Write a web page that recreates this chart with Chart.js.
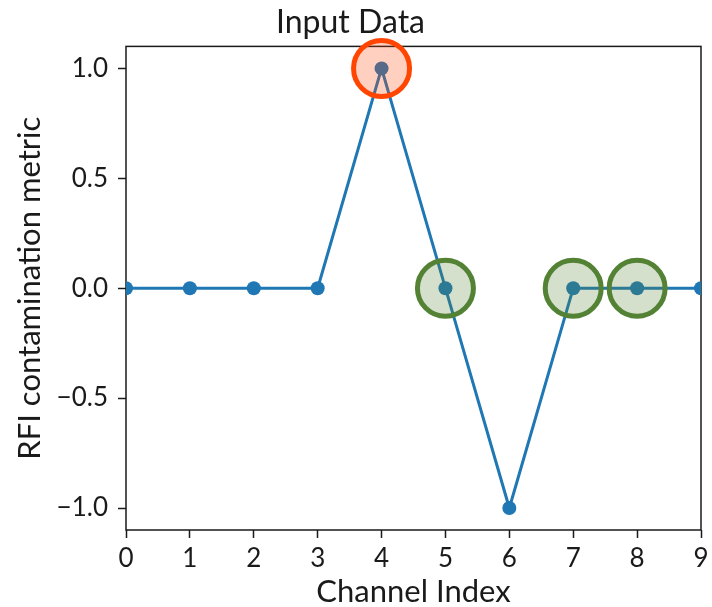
<!DOCTYPE html>
<html>
<head>
<meta charset="utf-8">
<title>Input Data</title>
<script src="https://cdn.jsdelivr.net/npm/chart.js@4.4.1/dist/chart.umd.min.js"></script>
<style>
    html, body { margin: 0; padding: 0; background: #fff; }
    #wrap { width: 712px; height: 607px; position: relative; }
</style>
</head>
<body>
<div id="wrap"><canvas id="rfiChart"></canvas></div>
<script>
// Channel data
const channels = [0, 1, 2, 3, 4, 5, 6, 7, 8, 9];
const metric = [0, 0, 0, 0, 1, 0, -1, 0, 0, 0];

// Highlighted channels
const flaggedChannels = [4];
const keptChannels = [5, 7, 8];

// Axis ticks
const xTicks = [0, 1, 2, 3, 4, 5, 6, 7, 8, 9];
const yTicks = [-1.0, -0.5, 0.0, 0.5, 1.0];

const FONT = 'Lato, "Open Sans", sans-serif';
const INK = '#1a1a1a';

function pointsFor(list) {
    return list.map(ch => ({ x: ch, y: metric[channels.indexOf(ch)] }));
}

// Box around the plot area (top and right spines too)
const frame = {
    id: 'frame',
    beforeDatasetsDraw(chart) {
        const { ctx, chartArea: a } = chart;
        ctx.save();
        ctx.strokeStyle = INK;
        ctx.lineWidth = 1.5;
        ctx.strokeRect(a.left, a.top, a.right - a.left, a.bottom - a.top);
        ctx.restore();
    }
};

const ctx = document.getElementById('rfiChart').getContext('2d');
const rfiChart = new Chart(ctx, {
    type: 'line',
    data: {
        datasets: [
            {
                label: 'flagged',
                data: pointsFor(flaggedChannels),
                showLine: false,
                pointRadius: 28,
                pointBorderWidth: 5,
                pointBorderColor: '#ff4500',
                pointBackgroundColor: 'rgba(255, 69, 0, 0.25)',
                clip: false,
                order: 0
            },
            {
                label: 'kept',
                data: pointsFor(keptChannels),
                showLine: false,
                pointRadius: 28,
                pointBorderWidth: 5,
                pointBorderColor: '#548235',
                pointBackgroundColor: 'rgba(84, 130, 53, 0.25)',
                clip: false,
                order: 0
            },
            {
                label: 'metric',
                data: channels.map((ch, i) => ({ x: ch, y: metric[i] })),
                borderColor: '#1f77b4',
                backgroundColor: '#1f77b4',
                borderWidth: 3,
                pointRadius: 7,
                pointBorderWidth: 0,
                pointBackgroundColor: '#1f77b4',
                tension: 0,
                clip: 0,
                order: 1
            }
        ]
    },
    options: {
        responsive: true,
        maintainAspectRatio: false,
        animation: false,
        layout: {
            autoPadding: false,
            padding: { left: 0, right: 11, top: 0, bottom: 0 }
        },
        plugins: {
            legend: { display: false },
            tooltip: { enabled: false },
            title: {
                display: true,
                text: 'Input Data',
                color: INK,
                font: { family: FONT, size: 32, weight: 'normal', lineHeight: 1.2 },
                padding: { top: 3, bottom: 5 }
            }
        },
        scales: {
            x: {
                type: 'linear',
                min: 0,
                max: 9,
                afterBuildTicks: scale => { scale.ticks = xTicks.map(v => ({ value: v })); },
                afterFit: scale => {
                    scale.height = 77;
                    scale.paddingLeft = 0;
                    scale.paddingRight = 0;
                },
                grid: { drawOnChartArea: false, drawTicks: true, tickLength: 8, tickWidth: 1.5, tickColor: INK },
                border: { display: false },
                ticks: {
                    color: INK,
                    padding: 5,
                    maxRotation: 0,
                    font: { family: FONT, size: 26 },
                    callback: v => String(v)
                },
                title: {
                    display: true,
                    text: 'Channel Index',
                    color: INK,
                    font: { family: FONT, size: 31, lineHeight: 1 },
                    padding: { top: 0, bottom: 0 }
                }
            },
            y: {
                type: 'linear',
                min: -1.1,
                max: 1.1,
                afterBuildTicks: scale => { scale.ticks = yTicks.map(v => ({ value: v })); },
                afterFit: scale => { scale.width = 126; },
                grid: { drawOnChartArea: false, drawTicks: true, tickLength: 8, tickWidth: 1.5, tickColor: INK },
                border: { display: false },
                ticks: {
                    color: INK,
                    padding: 10,
                    font: { family: FONT, size: 26 },
                    callback: v => v.toFixed(1).replace('-', '\u2212')
                },
                title: {
                    display: true,
                    text: 'RFI contamination metric',
                    color: INK,
                    font: { family: FONT, size: 31, lineHeight: 1 },
                    padding: { top: 14, bottom: 0 }
                }
            }
        }
    },
    plugins: [frame]
});
</script>
</body>
</html>
